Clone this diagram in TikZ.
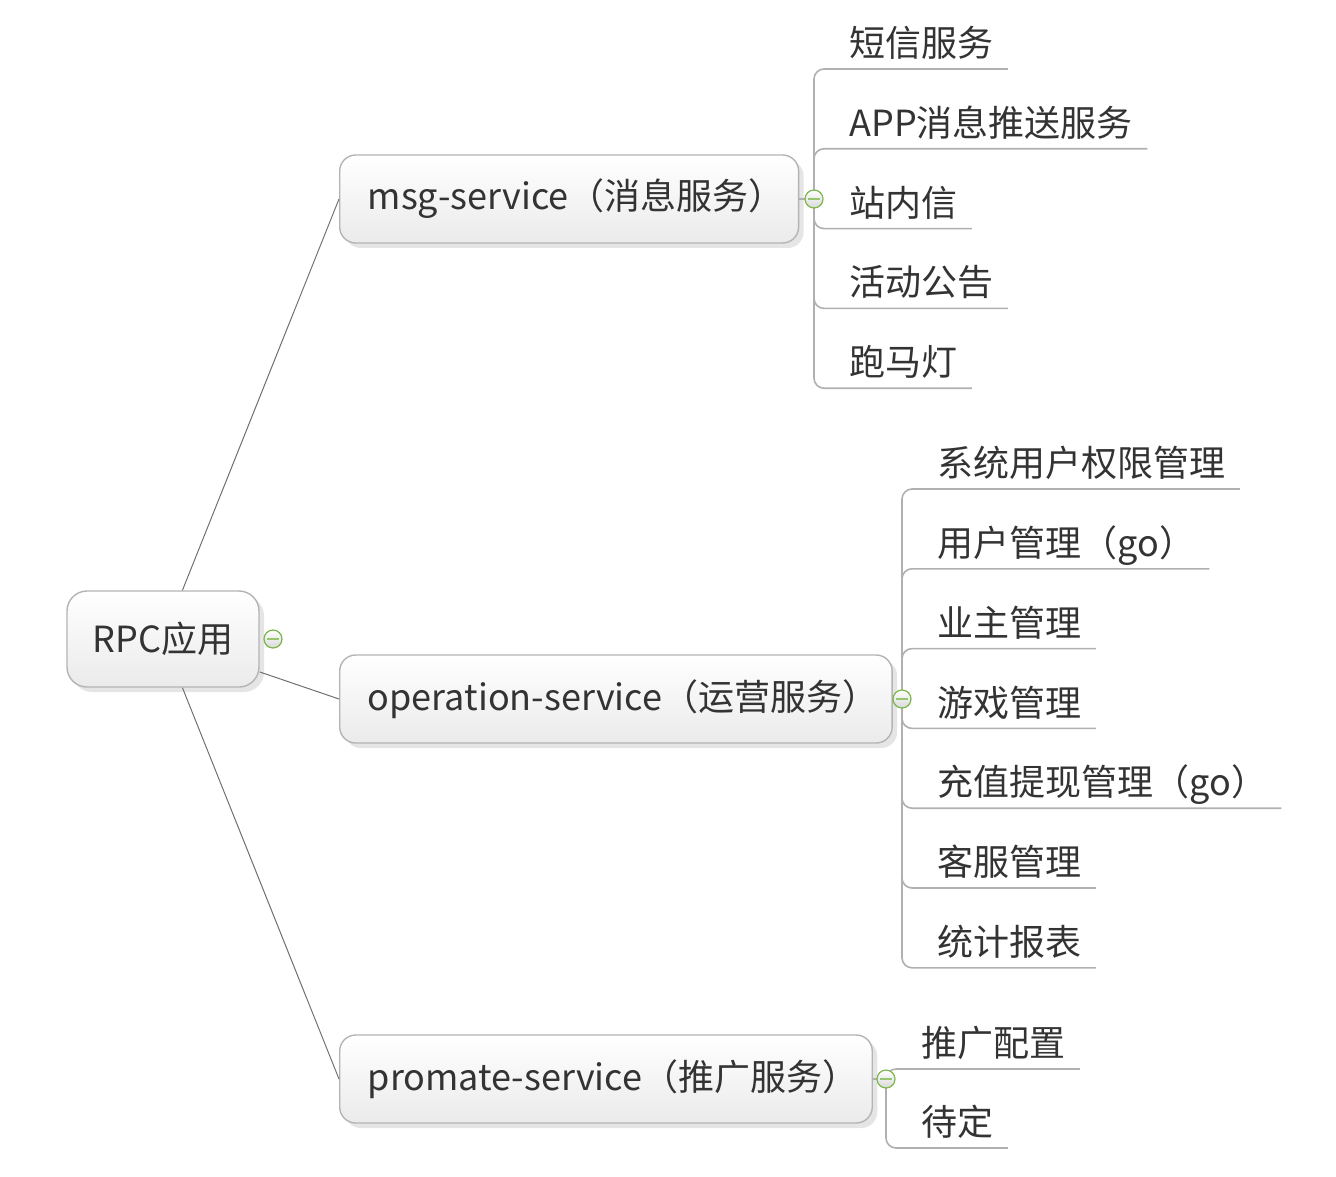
\documentclass[tikz,border=0pt]{standalone}
\usepackage{fontspec}
\setmainfont{Noto Sans CJK SC}
\usetikzlibrary{
	positioning,
	shadows
}
\definecolor{MMtext}{HTML}{333333}
\definecolor{MMborder}{HTML}{B4B4B4}
\definecolor{MMlink}{HTML}{707070}
\definecolor{MMbranch}{HTML}{B0B0B0}
\definecolor{MMgreen}{HTML}{7AB648}
\tikzset{
	MM-Box/.style={rectangle,draw=MMborder,line width=0.7pt,top color=white,bottom color=black!8,
		drop shadow={shadow xshift=2.5pt,shadow yshift=-2.5pt,fill=black,opacity=0.10}},
	MM-Root/.style={MM-Box,rounded corners=10pt,minimum width=96pt,minimum height=48pt},
	MM-Topic/.style={MM-Box,rounded corners=8pt,anchor=west,inner xsep=14pt,minimum height=44pt,
		execute at end node={\kern-7pt}},
	MM-Leaf/.style={anchor=south west,inner xsep=7pt,inner ysep=6pt,text depth=0pt},
	MM-Link/.style={draw=MMlink,line width=0.5pt},
	MM-Branch/.style={draw=MMbranch,line width=0.8pt,rounded corners=5pt},
	MM-Toggle/.style={circle,draw=MMgreen,line width=0.6pt,top color=white,bottom color=black!15,
		minimum size=9pt,inner sep=0pt,
		path picture={\draw[MMgreen!80,line width=0.9pt]
			([xshift=-2.8pt]path picture bounding box.center) -- ([xshift=2.8pt]path picture bounding box.center);}}
}

\begin{document}
\begin{tikzpicture}[x=0.5pt,y=-0.5pt,font=\fontsize{18pt}{22pt}\selectfont,text=MMtext]
	\useasboundingbox (0,0) rectangle (1336,1176);
	% root and the three services
	\node[MM-Root] (rpc) at (163,639) {RPC应用};
	\node[MM-Topic] (msg) at (339,199) {msg-service（消息服务）};
	\node[MM-Topic] (ops) at (339,699) {operation-service（运营服务）};
	\node[MM-Topic] (pro) at (339,1079) {promate-service（推广服务）};
	\draw[MM-Link] (rpc) -- (msg.west);
	\draw[MM-Link] (rpc) -- (ops.west);
	\draw[MM-Link] (rpc) -- (pro.west);
	% hubs
	\coordinate (msgH) at (814,199);
	\coordinate (opsH) at (902,699);
	\coordinate (proH) at (886,1079);
	\draw[MM-Branch] (msg.east) -- (msgH);
	\draw[MM-Branch] (ops.east) -- (opsH);
	\draw[MM-Branch] (pro.east) -- (proH);
	% leaves
	\foreach \t [count=\i] in {短信服务,APP消息推送服务,站内信,活动公告,跑马灯} {
		\node[MM-Leaf] (msg\i) at (835,{69+79.8*(\i-1)}) {\t};
		\draw[MM-Branch] (msgH) |- (msg\i.south east);
	}
	\foreach \t [count=\i] in {系统用户权限管理,用户管理（go）,业主管理,游戏管理,充值提现管理（go）,客服管理,统计报表} {
		\node[MM-Leaf] (ops\i) at (923,{489+79.8*(\i-1)}) {\t};
		\draw[MM-Branch] (opsH) |- (ops\i.south east);
	}
	\foreach \t [count=\i] in {推广配置,待定} {
		\node[MM-Leaf] (pro\i) at (907,{1069+79*(\i-1)}) {\t};
		\draw[MM-Branch] (proH) |- (pro\i.south east);
	}
	% collapse buttons
	\node[MM-Toggle] (rpcT) at (273,639) {};
	\node[MM-Toggle] (msgT) at (msgH) {};
	\node[MM-Toggle] (opsT) at (opsH) {};
	\node[MM-Toggle] (proT) at (proH) {};
\end{tikzpicture}
\end{document}
